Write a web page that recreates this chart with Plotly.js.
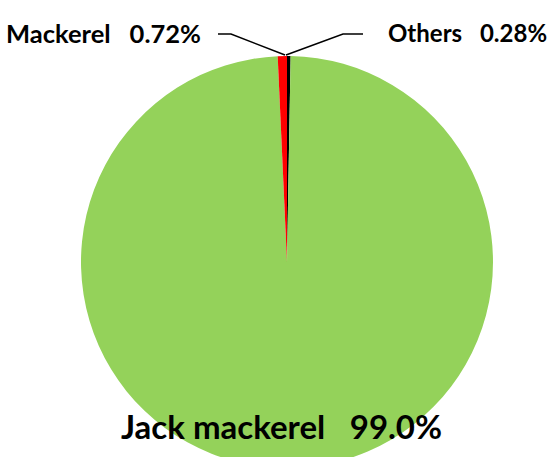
<!DOCTYPE html>
<html>
<head>
<meta charset="utf-8">
<script src="https://cdn.plot.ly/plotly-3.0.1.min.js"></script>
<style>
html,body{margin:0;padding:0;overflow:hidden;background:#fff;width:552px;height:457px;}
#chart{width:552px;height:470px;}
</style>
</head>
<body>
<div id="chart"></div>
<script>
// Data
const species = ["Others", "Jack mackerel", "Mackerel"];
const shares = [0.28, 99.0, 0.72];
const shareLabels = ["0.28%", "99.0%", "0.72%"];
const sliceColors = ["#000000", "#94D25A", "#FF0000"];

// Layout geometry (pixels)
const W = 552, H = 470;
const M = {l: 81, r: 59, t: 56, b: 2};
const pw = W - M.l - M.r, ph = H - M.t - M.b;
const px = x => (x - M.l) / pw;
const py = y => (H - M.b - y) / ph;

const font = {family: "Lato, 'Open Sans', sans-serif", color: "#000", weight: 700};

const trace = {
  type: "pie",
  labels: species,
  values: shares,
  sort: false,
  direction: "clockwise",
  rotation: 0,
  marker: {colors: sliceColors, line: {width: 0}},
  textinfo: "none",
  hoverinfo: "label+percent",
  domain: {x: [0, 1], y: [0, 1]},
  showlegend: false
};

const tipX = M.l + pw / 2, tipY = M.t;

const layout = {
  width: W, height: H,
  margin: M,
  paper_bgcolor: "#fff",
  plot_bgcolor: "#fff",
  showlegend: false,
  annotations: [
    {xref: "paper", yref: "paper", x: px(203), y: py(33), xanchor: "right", yanchor: "middle",
     text: species[2] + "\u2002 " + shareLabels[2], showarrow: false, font: Object.assign({size: 25.5}, font)},
    {xref: "paper", yref: "paper", x: px(386), y: py(33), xanchor: "left", yanchor: "middle",
     text: species[0] + "\u2002 " + shareLabels[0], showarrow: false, font: Object.assign({size: 24}, font)},
    {xref: "paper", yref: "paper", x: px(281), y: py(426), xanchor: "center", yanchor: "middle",
     text: species[1] + "\u2002 " + shareLabels[1], showarrow: false, font: Object.assign({size: 33}, font)}
  ],
  shapes: [
    {type: "path", xref: "paper", yref: "paper",
     path: `M ${px(218)} ${py(34)} L ${px(231)} ${py(34)} L ${px(tipX - 2)} ${py(tipY - 1)}`,
     line: {color: "#000", width: 1.5}},
    {type: "path", xref: "paper", yref: "paper",
     path: `M ${px(tipX - 1)} ${py(tipY - 1)} L ${px(343)} ${py(34)} L ${px(363)} ${py(34)}`,
     line: {color: "#000", width: 1.5}}
  ]
};

Plotly.newPlot("chart", [trace], layout, {displayModeBar: false, staticPlot: true});
</script>
</body>
</html>
